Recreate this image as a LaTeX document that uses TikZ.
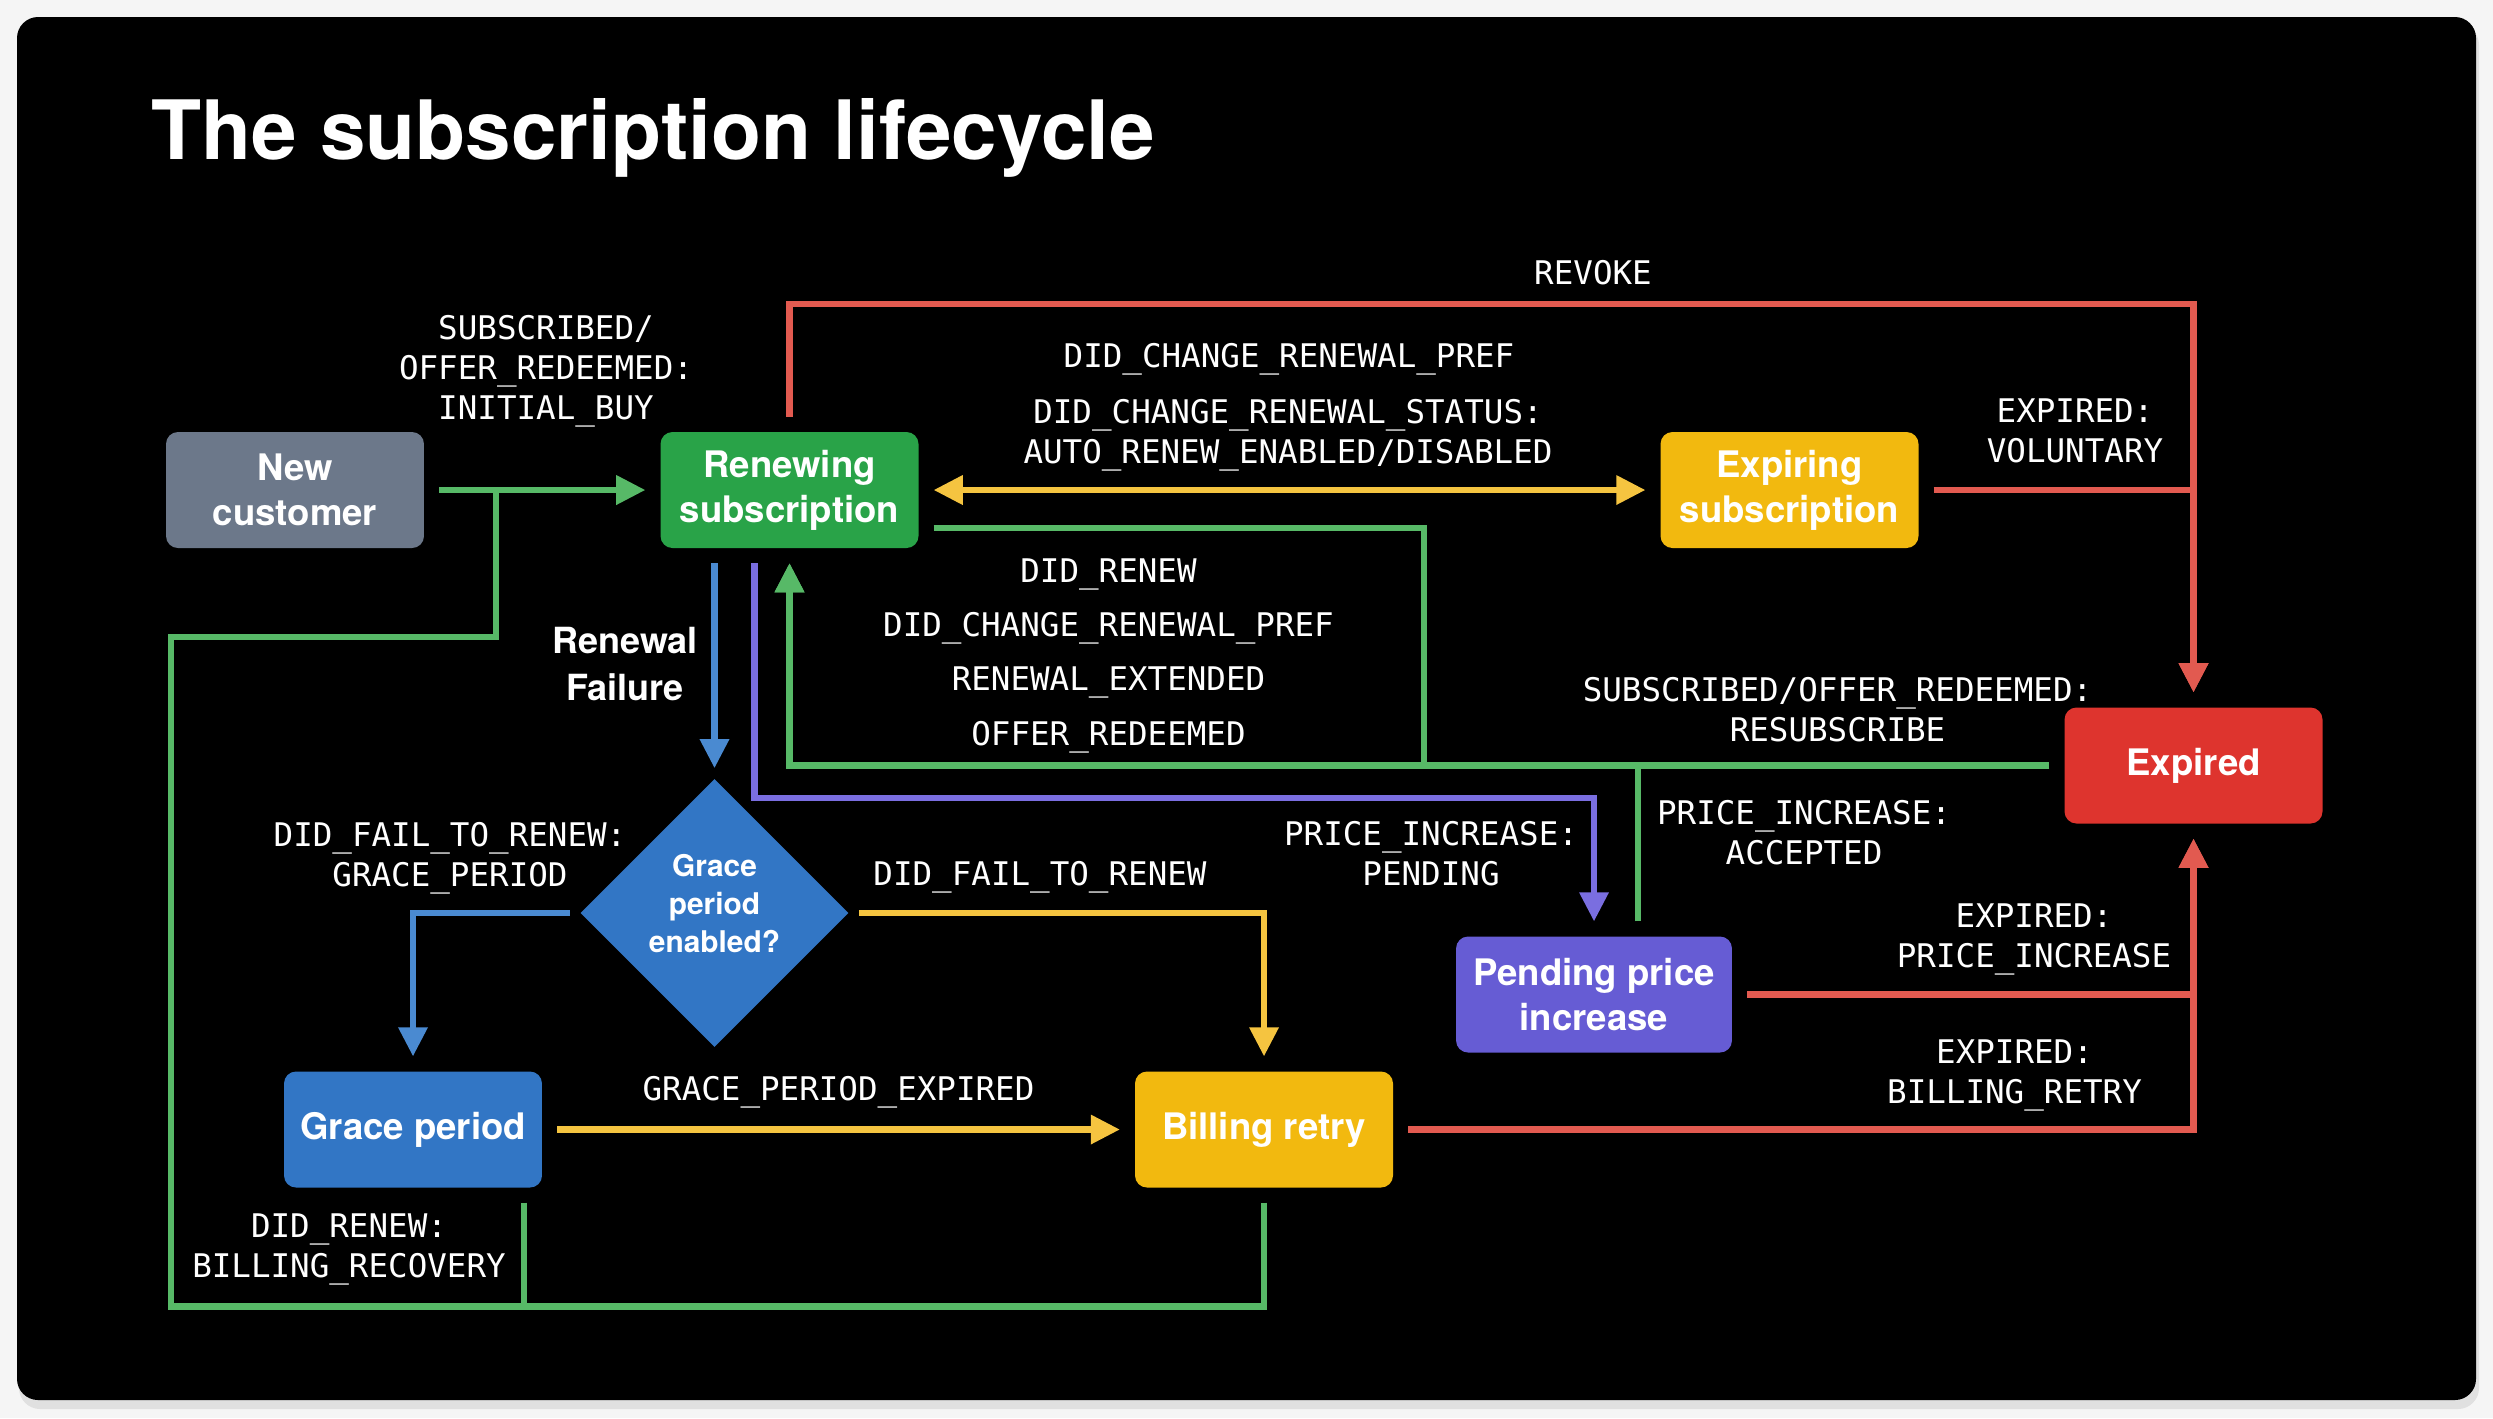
\documentclass[tikz,border=0pt]{standalone}
\usepackage{fontspec}
\setmainfont{TeX Gyre Heros}
\newfontfamily\monofont{DejaVu Sans Mono}
\usepackage{tikz}
\usetikzlibrary{arrows.meta,shapes.geometric,positioning}

\definecolor{custgray}{HTML}{6C788A}
\definecolor{renewgreen}{HTML}{29A348}
\definecolor{expyellow}{HTML}{F2B90F}
\definecolor{expred}{HTML}{DE342E}
\definecolor{graceblue}{HTML}{3276C5}
\definecolor{pendpurple}{HTML}{665CD4}
\definecolor{greenline}{HTML}{57B967}
\definecolor{yellowline}{HTML}{F5C440}
\definecolor{redline}{HTML}{E25A50}
\definecolor{blueline}{HTML}{4A8AD1}
\definecolor{purpleline}{HTML}{7A6EE0}

\begin{document}
\begin{tikzpicture}[x=0.1mm,y=-0.1mm,
        >={Triangle[length=8.3pt,width=8pt]},
        statebox/.style={rectangle, rounded corners=3.4pt, minimum width=73.4pt, minimum height=33pt,
            align=center, text=white, font=\bfseries\fontsize{10.4}{12.8}\selectfont,
            inner sep=2pt, outer sep=4.3pt},
        lbl/.style={text=white, align=center, inner sep=0pt, font=\monofont\fontsize{9.26}{11.4}\selectfont},
        conn/.style={line width=1.8pt}]
        \useasboundingbox (0,0) rectangle (2493,1418);
        \fill[white!96!black] (0,0) rectangle (2493,1418);
        \fill[black!12, rounded corners=6pt] (19,24) rectangle (2479,1409);
        \fill[black, rounded corners=6pt] (17,17) rectangle (2476,1400);

        \node[anchor=base west, inner sep=0pt, text=white, font=\bfseries\fontsize{23.3}{28}\selectfont] (title) at (151,159) {The subscription lifecycle};

        \node[statebox, fill=custgray] (newc) at (295,490) {New\\customer};
        \node[statebox, fill=renewgreen] (renew) at (789.5,490) {Renewing\\subscription};
        \node[statebox, fill=expyellow] (expiring) at (1789.5,490) {Expiring\\subscription};
        \node[statebox, fill=expred] (expired) at (2193.5,765.5) {Expired};
        \node[diamond, aspect=1, fill=graceblue, minimum width=78pt, minimum height=78pt, inner sep=0pt, outer sep=2.2pt] (decide) at (714.5,913) {};
        \node[align=center, text=white, inner sep=0pt, font=\bfseries\fontsize{8.5}{10.8}\selectfont] (decidetxt) at ([yshift=2.6pt]decide.center) {Grace\\period\\enabled?};
        \node[statebox, fill=graceblue] (grace) at (413,1129.5) {Grace period};
        \node[statebox, fill=expyellow] (billing) at (1264,1129.5) {Billing retry};
        \node[statebox, fill=pendpurple, minimum width=78.5pt] (pending) at (1594,994.5) {Pending price\\increase};

        \coordinate (join) at (496,490);
        \draw[conn, greenline, ->] (newc) -- (renew);
        \draw[conn, greenline] (billing.south) -- ++(0,104) -| (171,637) -| (join);
        \draw[conn, greenline] ([xshift=31.6pt]grace.south) -- ++(0,104);
        \draw[conn, greenline, ->] ([yshift=-10.8pt]renew.east) -| (1424,765.5) -| (renew);
        \draw[conn, greenline, ->] (expired) -| (renew);
        \draw[conn, greenline] ([xshift=12.5pt]pending.north) -- ++(0,-156);
        \draw[conn, yellowline, <->] (renew) -- (expiring);
        \draw[conn, redline, ->] (renew.north) -- ++(0,-113) -| (expired);
        \draw[conn, redline, ->] (expiring) -| (expired);
        \draw[conn, redline, ->] (pending) -| (expired);
        \draw[conn, redline, ->] (billing) -| (expired);
        \draw[conn, blueline, ->] (renew.south -| decide) -- (decide);
        \draw[conn, purpleline, ->] ([xshift=-10pt]renew.south) -- ++(0,235) -| (pending);
        \draw[conn, blueline, ->] (decide) -| (grace);
        \draw[conn, yellowline, ->] (decide) -| (billing);
        \draw[conn, yellowline, ->] (grace) -- (billing);

        \node[text=white, align=center, inner sep=0pt, font=\bfseries\fontsize{10.25}{13.4}\selectfont] (failnote) at (625,664) {Renewal\\Failure};
        \node[lbl] (buylbl) at (546,371) {SUBSCRIBED/\\OFFER\_REDEEMED:\\INITIAL\_BUY};
        \node[lbl] (revokelbl) at (1593,272.5) {REVOKE};
        \node[lbl] (preflbl) at (1289,359.5) {DID\_CHANGE\_RENEWAL\_PREF};
        \node[lbl] (statuslbl) at (1288,435.5) {DID\_CHANGE\_RENEWAL\_STATUS:\\AUTO\_RENEW\_ENABLED/DISABLED};
        \node[lbl] (voluntarylbl) at (2075,431) {EXPIRED:\\VOLUNTARY};
        \foreach \txt [count=\i] in {DID\_RENEW, DID\_CHANGE\_RENEWAL\_PREF, RENEWAL\_EXTENDED, OFFER\_REDEEMED}
            \node[lbl] (looplbl\i) at (1108.5,{574+54.3*(\i-1)}) {\txt};
        \node[lbl] (resublbl) at (1837.5,710) {SUBSCRIBED/OFFER\_REDEEMED:\\RESUBSCRIBE};
        \node[lbl] (acceptlbl) at (1804,832.5) {PRICE\_INCREASE:\\ACCEPTED};
        \node[lbl] (pendlbl) at (1431,853.5) {PRICE\_INCREASE:\\PENDING};
        \node[lbl] (gracelbl) at (450,858) {DID\_FAIL\_TO\_RENEW:\\GRACE\_PERIOD};
        \node[lbl] (faillbl) at (1040,877.5) {DID\_FAIL\_TO\_RENEW};
        \node[lbl] (gpexplbl) at (838.5,1092) {GRACE\_PERIOD\_EXPIRED};
        \node[lbl] (recoverlbl) at (349,1249.5) {DID\_RENEW:\\BILLING\_RECOVERY};
        \node[lbl] (pricexplbl) at (2034,939) {EXPIRED:\\PRICE\_INCREASE};
        \node[lbl] (retrylbl) at (2014.5,1075.5) {EXPIRED:\\BILLING\_RETRY};
    \end{tikzpicture}
\end{document}
